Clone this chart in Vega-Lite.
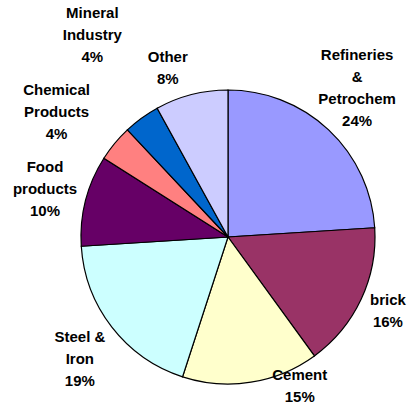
{
  "$schema": "https://vega.github.io/schema/vega-lite/v6.json",
  "width": 362,
  "height": 342,
  "autosize": {"type": "none"},
  "padding": {"left": 47, "right": 0, "top": 66, "bottom": 0},
  "background": "white",
  "view": {"stroke": null},
  "data": {
    "values": [
      {"idx": 1, "sector": "Refineries & Petrochem", "label": "Refineries\n&\nPetrochem\n24%", "value": 24},
      {"idx": 2, "sector": "brick", "label": "brick\n16%", "value": 16},
      {"idx": 3, "sector": "Cement", "label": "Cement\n15%", "value": 15},
      {"idx": 4, "sector": "Steel & Iron", "label": "Steel &\nIron\n19%", "value": 19},
      {"idx": 5, "sector": "Food products", "label": "Food\nproducts\n10%", "value": 10},
      {"idx": 6, "sector": "Chemical Products", "label": "Chemical\nProducts\n4%", "value": 4},
      {"idx": 7, "sector": "Mineral Industry", "label": "Mineral\nIndustry\n4%", "value": 4},
      {"idx": 8, "sector": "Other", "label": "Other\n8%", "value": 8}
    ]
  },
  "encoding": {
    "theta": {"field": "value", "type": "quantitative", "stack": true},
    "order": {"field": "idx", "type": "quantitative"}
  },
  "layer": [
    {
      "mark": {"type": "arc", "outerRadius": 147, "stroke": "black", "strokeWidth": 1.2},
      "encoding": {
        "color": {
          "field": "sector",
          "type": "nominal",
          "legend": null,
          "scale": {
            "domain": ["Refineries & Petrochem", "brick", "Cement", "Steel & Iron", "Food products", "Chemical Products", "Mineral Industry", "Other"],
            "range": ["#9999FF", "#993366", "#FFFFCC", "#CCFFFF", "#660066", "#FF8080", "#0066CC", "#CCCCFF"]
          }
        }
      }
    },
    {
      "mark": {"type": "text", "radius": 190, "dx": -1, "dy": -43, "lineBreak": "\n", "lineHeight": 22, "font": "Liberation Sans", "fontWeight": "bold", "fontSize": 15, "align": "center", "baseline": "middle", "color": "black"},
      "encoding": {"text": {"condition": {"test": "datum.idx == 1", "field": "label"}, "value": ""}}
    },
    {
      "mark": {"type": "text", "radius": 190, "dx": -12, "dy": -18, "lineBreak": "\n", "lineHeight": 22, "font": "Liberation Sans", "fontWeight": "bold", "fontSize": 15, "align": "center", "baseline": "middle", "color": "black"},
      "encoding": {"text": {"condition": {"test": "datum.idx == 2", "field": "label"}, "value": ""}}
    },
    {
      "mark": {"type": "text", "radius": 190, "dx": 42, "dy": -50, "lineBreak": "\n", "lineHeight": 22, "font": "Liberation Sans", "fontWeight": "bold", "fontSize": 15, "align": "center", "baseline": "middle", "color": "black"},
      "encoding": {"text": {"condition": {"test": "datum.idx == 3", "field": "label"}, "value": ""}}
    },
    {
      "mark": {"type": "text", "radius": 190, "dx": 2, "dy": -16, "lineBreak": "\n", "lineHeight": 22, "font": "Liberation Sans", "fontWeight": "bold", "fontSize": 15, "align": "center", "baseline": "middle", "color": "black"},
      "encoding": {"text": {"condition": {"test": "datum.idx == 4", "field": "label"}, "value": ""}}
    },
    {
      "mark": {"type": "text", "radius": 190, "dx": 1, "dy": -23, "lineBreak": "\n", "lineHeight": 22, "font": "Liberation Sans", "fontWeight": "bold", "fontSize": 15, "align": "center", "baseline": "middle", "color": "black"},
      "encoding": {"text": {"condition": {"test": "datum.idx == 5", "field": "label"}, "value": ""}}
    },
    {
      "mark": {"type": "text", "radius": 190, "dx": -25, "dy": -26, "lineBreak": "\n", "lineHeight": 22, "font": "Liberation Sans", "fontWeight": "bold", "fontSize": 15, "align": "center", "baseline": "middle", "color": "black"},
      "encoding": {"text": {"condition": {"test": "datum.idx == 6", "field": "label"}, "value": ""}}
    },
    {
      "mark": {"type": "text", "radius": 190, "dx": -24, "dy": -70, "lineBreak": "\n", "lineHeight": 22, "font": "Liberation Sans", "fontWeight": "bold", "fontSize": 15, "align": "center", "baseline": "middle", "color": "black"},
      "encoding": {"text": {"condition": {"test": "datum.idx == 7", "field": "label"}, "value": ""}}
    },
    {
      "mark": {"type": "text", "radius": 190, "dx": -13, "dy": 4, "lineBreak": "\n", "lineHeight": 22, "font": "Liberation Sans", "fontWeight": "bold", "fontSize": 15, "align": "center", "baseline": "middle", "color": "black"},
      "encoding": {"text": {"condition": {"test": "datum.idx == 8", "field": "label"}, "value": ""}}
    }
  ]
}
